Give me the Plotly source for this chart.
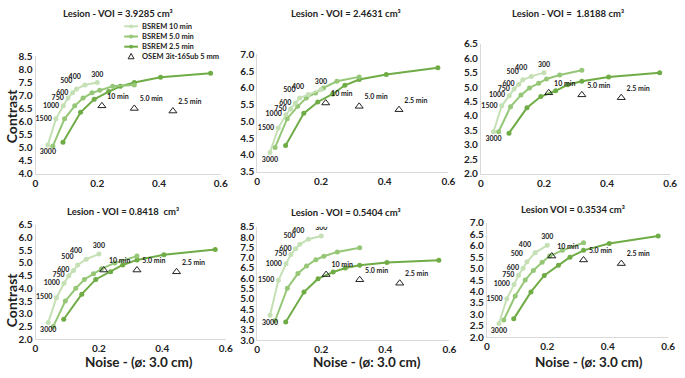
import plotly.graph_objects as go

# ---------------- data ----------------
iter_labels = ["3000", "1500", "1000", "750", "600", "500", "400", "300"]
osem_labels = ["10 min", "5.0 min", "2.5 min"]
legend_names = ["BSREM 10 min", "BSREM 5.0 min", "BSREM 2.5 min", "OSEM 3it-16Sub 5 mm"]

noise_10 = [0.040, 0.066, 0.090, 0.105, 0.120, 0.133, 0.160, 0.200]
noise_5 = [0.056, 0.094, 0.127, 0.154, 0.183, 0.208, 0.250, 0.320]
noise_25 = [0.089, 0.146, 0.190, 0.237, 0.275, 0.320, 0.405, 0.567]
osem_noise = [0.215, 0.320, 0.445]

titles = ["Lesion - VOI = 3.9285 cm³", "Lesion - VOI = 2.4631 cm³", "Lesion - VOI =  1.8188 cm³",
          "Lesion - VOI = 0.8418  cm³", "Lesion - VOI = 0.5404 cm³", "Lesion VOI = 0.3534 cm³"]

c10_v1 = [5.10, 6.10, 6.60, 6.90, 7.10, 7.25, 7.40, 7.50]
c5_v1 = [5.05, 6.10, 6.60, 6.90, 7.10, 7.20, 7.35, 7.40]
c25_v1 = [5.20, 6.35, 6.85, 7.15, 7.35, 7.50, 7.70, 7.85]
osem_v1 = [6.60, 6.50, 6.40]

c10_v2 = [4.07, 4.80, 5.20, 5.37, 5.55, 5.70, 5.80, 5.95]
c5_v2 = [4.22, 5.08, 5.45, 5.70, 5.85, 6.00, 6.20, 6.33]
c25_v2 = [4.28, 5.24, 5.58, 5.82, 6.08, 6.25, 6.40, 6.60]
osem_v2 = [5.55, 5.45, 5.35]

c10_v3 = [3.45, 4.35, 4.70, 4.93, 5.10, 5.25, 5.37, 5.50]
c5_v3 = [3.45, 4.32, 4.72, 4.97, 5.13, 5.28, 5.42, 5.58]
c25_v3 = [3.40, 4.28, 4.67, 4.87, 5.08, 5.20, 5.35, 5.50]
osem_v3 = [4.80, 4.73, 4.63]

c10_v4 = [2.65, 3.63, 4.20, 4.50, 4.70, 4.92, 5.15, 5.35]
c5_v4 = [2.50, 3.50, 4.00, 4.35, 4.57, 4.77, 5.00, 5.27]
c25_v4 = [2.78, 3.77, 4.35, 4.65, 4.92, 5.12, 5.32, 5.53]
osem_v4 = [4.72, 4.72, 4.65]

c10_v5 = [4.20, 5.90, 6.70, 7.15, 7.43, 7.65, 7.90, 8.05]
c5_v5 = [3.95, 5.52, 6.23, 6.60, 6.90, 7.07, 7.28, 7.48]
c25_v5 = [3.88, 5.33, 5.98, 6.30, 6.50, 6.63, 6.77, 6.87]
osem_v5 = [6.18, 5.93, 5.76]

c10_v6 = [2.60, 3.68, 4.30, 4.71, 5.02, 5.30, 5.70, 6.02]
c5_v6 = [2.75, 3.80, 4.50, 4.92, 5.28, 5.55, 5.80, 6.13]
c25_v6 = [2.80, 3.98, 4.70, 5.15, 5.50, 5.80, 6.10, 6.43]
osem_v6 = [5.55, 5.38, 5.22]

y_ranges = [[4.0, 8.5], [3.5, 7.0], [2.0, 6.5], [2.0, 6.5], [3.0, 8.5], [2.0, 7.0]]

series = [
    (c10_v1, c5_v1, c25_v1, osem_v1),
    (c10_v2, c5_v2, c25_v2, osem_v2),
    (c10_v3, c5_v3, c25_v3, osem_v3),
    (c10_v4, c5_v4, c25_v4, osem_v4),
    (c10_v5, c5_v5, c25_v5, osem_v5),
    (c10_v6, c5_v6, c25_v6, osem_v6),
]

# ---------------- layout geometry (pixels) ----------------
W, H = 685, 378
boxes = [
    (33, 221, 52, 173),
    (258, 452, 50, 171),
    (485, 677, 39, 173),
    (33, 226, 226, 344),
    (258, 453, 228, 345),
    (491, 675, 224, 342),
]
title_pos = [(117, 8), (348, 8), (573, 8), (122, 212), (348, 213), (578, 210)]

COL10 = "#c5e0b4"
COL5 = "#95c777"
COL25 = "#6fac46"
TXT = "#222222"
FONT = "Lato"
label_pos = ["bottom center", "middle left", "middle left", "middle left",
             "middle left", "top left", "top left", "top center"]


def px(x):
    return x / W


def py(y):
    return 1 - y / H


fig = go.Figure()
annotations = []
shapes = []

for i, (c10, c5, c25, osem) in enumerate(series):
    sfx = "" if i == 0 else str(i + 1)
    xa, ya = "x" + sfx, "y" + sfx
    fig.add_trace(go.Scatter(x=noise_25, y=c25, mode="lines+markers", name="BSREM 2.5 min",
                             line=dict(color=COL25, width=2), marker=dict(size=5, color=COL25),
                             xaxis=xa, yaxis=ya, showlegend=False))
    fig.add_trace(go.Scatter(x=noise_5, y=c5, mode="lines+markers", name="BSREM 5.0 min",
                             line=dict(color=COL5, width=2), marker=dict(size=5, color=COL5),
                             xaxis=xa, yaxis=ya, showlegend=False))
    fig.add_trace(go.Scatter(x=noise_10, y=c10, mode="lines+markers+text", name="BSREM 10 min",
                             text=iter_labels, textposition=label_pos,
                             textfont=dict(family=FONT, size=7, color=TXT, weight="bold"),
                             line=dict(color=COL10, width=2), marker=dict(size=5, color=COL10),
                             xaxis=xa, yaxis=ya, showlegend=False))
    fig.add_trace(go.Scatter(x=osem_noise, y=osem, mode="markers+text", name="OSEM 3it-16Sub 5 mm",
                             text=osem_labels, textposition="top right",
                             textfont=dict(family=FONT, size=7, color=TXT, weight="bold"),
                             marker=dict(symbol="triangle-up-open", size=7, color=TXT,
                                         line=dict(width=1)),
                             xaxis=xa, yaxis=ya, showlegend=False))

    x0, x1, yt, yb = boxes[i]
    lo, hi = y_ranges[i]
    nt = int(round((hi - lo) / 0.5))
    yticks = [lo + 0.5 * k for k in range(nt + 1)]
    axis_common = dict(showgrid=False, zeroline=False, showline=True, linecolor="#d9d9d9",
                       linewidth=1, ticks="",
                       tickfont=dict(family=FONT, size=10, color=TXT, weight="bold"))
    fig.update_layout(**{
        "xaxis" + sfx: dict(domain=[px(x0), px(x1)], range=[0, 0.6], dtick=0.2, tick0=0,
                            anchor=ya, **axis_common),
        "yaxis" + sfx: dict(domain=[py(yb), py(yt)], range=[lo, hi + 0.002], tickmode="array",
                            tickvals=yticks, ticktext=["{:.1f}".format(v) for v in yticks],
                            anchor=xa, **axis_common),
    })
    tx, ty = title_pos[i]
    annotations.append(dict(text=titles[i], x=px(tx), y=py(ty), xref="paper", yref="paper",
                            showarrow=False, xanchor="center", yanchor="middle",
                            font=dict(family=FONT, size=9.5, color=TXT, weight="bold")))

# ---------------- manual legend (panel 1) ----------------
leg_rows = [21, 31.5, 42, 52]
leg_cols = [COL10, COL5, COL25]
for k, name in enumerate(legend_names):
    yy = leg_rows[k]
    if k < 3:
        shapes.append(dict(type="line", xref="paper", yref="paper", x0=px(123), x1=px(137),
                           y0=py(yy), y1=py(yy), line=dict(color=leg_cols[k], width=2)))
        shapes.append(dict(type="circle", xref="paper", yref="paper", x0=px(128), x1=px(132),
                           y0=py(yy + 2), y1=py(yy - 2), fillcolor=leg_cols[k],
                           line=dict(color=leg_cols[k], width=0)))
    else:
        shapes.append(dict(type="path", xref="paper", yref="paper",
                           path="M {} {} L {} {} L {} {} Z".format(px(127), py(yy + 2.5), px(133),
                                                                   py(yy + 2.5), px(130), py(yy - 3)),
                           line=dict(color=TXT, width=1)))
    annotations.append(dict(text=name, x=px(139), y=py(yy), xref="paper", yref="paper",
                            showarrow=False, xanchor="left", yanchor="middle",
                            font=dict(family=FONT, size=7.5, color=TXT, weight="bold")))

# ---------------- axis titles ----------------
for cy in (113, 303):
    annotations.append(dict(text="Contrast", x=px(9), y=py(cy), xref="paper", yref="paper",
                            showarrow=False, textangle=-90, xanchor="center", yanchor="middle",
                            font=dict(family=FONT, size=14, color=TXT, weight="bold")))
for cx in (138, 369, 595):
    annotations.append(dict(text="Noise - (ø: 3.0 cm)", x=px(cx), y=py(368), xref="paper",
                            yref="paper", showarrow=False, xanchor="center", yanchor="middle",
                            font=dict(family=FONT, size=13.5, color=TXT, weight="bold")))

fig.update_layout(
    width=W, height=H, margin=dict(l=0, r=0, t=0, b=0),
    paper_bgcolor="white", plot_bgcolor="white",
    annotations=annotations, shapes=shapes,
    showlegend=False,
)

post = ("document.documentElement.style.margin='0';document.documentElement.style.padding='0';"
        "document.body.style.margin='0';document.body.style.padding='0';"
        "document.documentElement.style.overflow='hidden';document.body.style.overflow='hidden';")
fig.write_html("out.html", config={"displayModeBar": False}, post_script=post)
